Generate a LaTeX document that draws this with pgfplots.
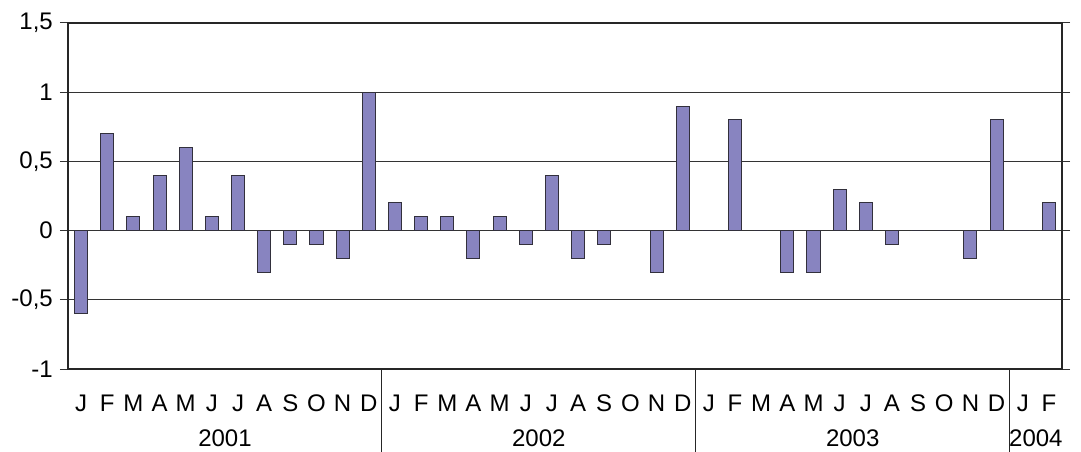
\documentclass[border=0pt]{standalone}
\usepackage{pgfplots}
\pgfplotsset{compat=1.18}
\usepackage{fontspec}
\setmainfont{Liberation Sans}
\definecolor{barfill}{RGB}{136,132,192}
\definecolor{baredge}{RGB}{50,48,60}
\newcommand{\lbl}{\fontsize{24}{28}\selectfont}
\pgfplotsset{every tick label/.append style={font=\lbl}}
\begin{document}
\begin{tikzpicture}[font=\lbl]
\useasboundingbox (-68pt,-83pt) rectangle (1013pt,369pt);
\begin{axis}[
  at={(0pt,0pt)}, anchor=south west,
  scale only axis, width=994pt, height=346pt,
  font=\lbl,
  xmin=-0.5, xmax=37.5, ymin=-1, ymax=1.5,
  ytick={-1,-0.5,0,0.5,1,1.5},
  yticklabels={{\lbl -1},{\lbl -0,5},{\lbl 0},{\lbl 0,5},{\lbl 1},{\lbl 1,5}},
  xtick={0,...,37},
  xticklabels={J,F,M,A,M,J,J,A,S,O,N,D,J,F,M,A,M,J,J,A,S,O,N,D,J,F,M,A,M,J,J,A,S,O,N,D,J,F},
  x tick style={draw=none},
  y tick style={black!80, line width=1pt},
  tick align=outside, major tick length=8pt,
  ymajorgrids, grid style={black!80, line width=1pt},
  axis line style={black!85, line width=1.2pt},
  yticklabel style={font=\lbl, inner sep=0pt, anchor=east, xshift=-7pt},
  xticklabel style={font=\lbl, inner sep=0pt, anchor=base, yshift=-34pt},
  ybar, bar width=0.5, bar shift=0pt,
]
\addplot[fill=barfill, draw=baredge, line width=1pt] coordinates {
(0,-0.6) (1,0.7) (2,0.1) (3,0.4) (4,0.6) (5,0.1) (6,0.4) (7,-0.3) (8,-0.1) (9,-0.1) (10,-0.2) (11,1.0)
(12,0.2) (13,0.1) (14,0.1) (15,-0.2) (16,0.1) (17,-0.1) (18,0.4) (19,-0.2) (20,-0.1) (21,0) (22,-0.3) (23,0.9)
(24,0) (25,0.8) (26,0) (27,-0.3) (28,-0.3) (29,0.3) (30,0.2) (31,-0.1) (32,0) (33,0) (34,-0.2) (35,0.8)
(36,0) (37,0.2)
};
\coordinate (s1) at (axis cs:11.5,-1);
\coordinate (s2) at (axis cs:23.5,-1);
\coordinate (s3) at (axis cs:35.5,-1);
\coordinate (y1) at (axis cs:5.5,-1);
\coordinate (y2) at (axis cs:17.5,-1);
\coordinate (y3) at (axis cs:29.5,-1);
\coordinate (y4) at (axis cs:36.5,-1);
\end{axis}
\foreach \s in {s1,s2,s3} \draw[black!85, line width=1pt] (\s) -- ++(0,-83pt);
\foreach \y/\t in {y1/2001,y2/2002,y3/2003,y4/2004}
  \node[font=\lbl, inner sep=0pt] at ([yshift=-69.5pt]\y) {\t};
\end{tikzpicture}
\end{document}
